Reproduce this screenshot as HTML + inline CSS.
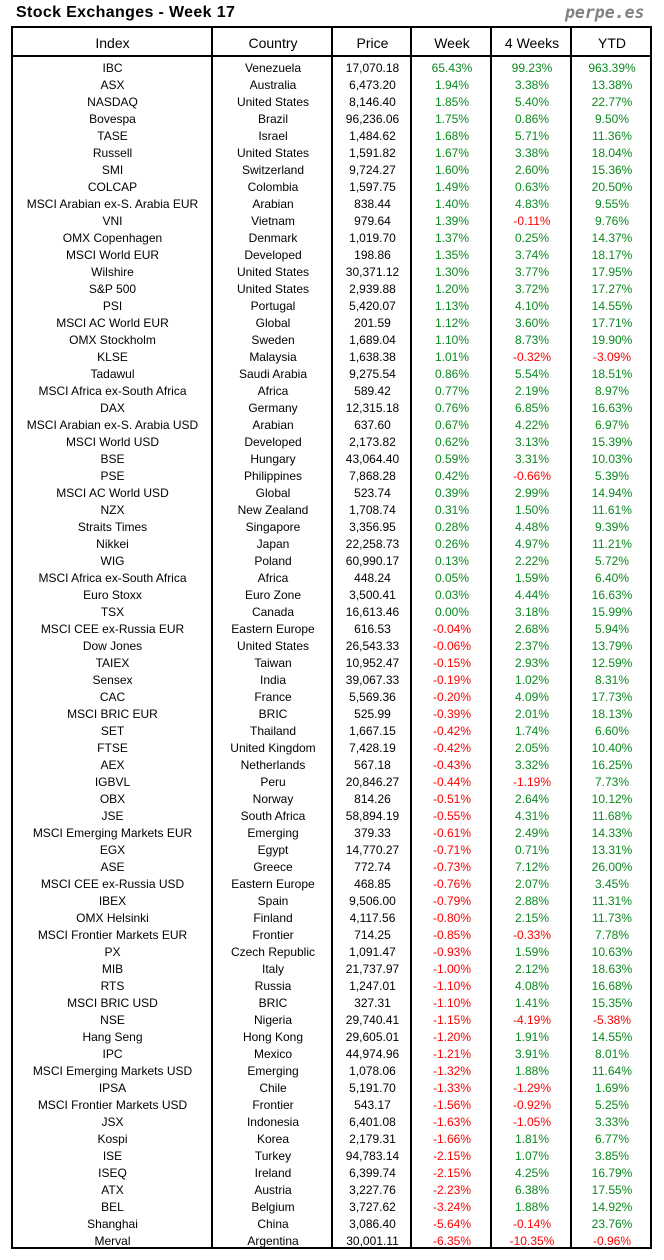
<!DOCTYPE html>
<html>
<head>
<meta charset="utf-8">
<style>
html,body{margin:0;padding:0;background:#fff;}
body{width:664px;height:1260px;position:relative;overflow:hidden;font-family:"Liberation Sans",Arial,sans-serif;color:#000;}
.title{position:absolute;left:16px;top:5px;font-size:16px;line-height:16px;font-weight:bold;letter-spacing:0.35px;white-space:nowrap;}
.brand{position:absolute;left:565px;top:4.5px;font-family:"DejaVu Sans Mono","Liberation Mono",monospace;font-weight:bold;font-style:oblique;font-size:16.5px;line-height:16.5px;color:#808080;white-space:nowrap;}
.ln{position:absolute;background:#000;}
table{position:absolute;left:12px;border-collapse:collapse;table-layout:fixed;width:640px;}
td{padding:0;text-align:center;white-space:nowrap;overflow:visible;}
#hd{top:30px;}
#hd td{height:27px;line-height:27px;font-size:14px;}
#bd{top:60px;}
#bd td{height:17px;line-height:17px;font-size:12px;}
.g{color:#0a8a1e;}
.r{color:#ff0000;}
</style>
</head>
<body>
<div class="title">Stock Exchanges - Week 17</div>
<div class="brand">perpe.es</div>

<div class="ln" style="left:11px;top:26px;width:641px;height:2px;"></div>
<div class="ln" style="left:11px;top:1247px;width:641px;height:2px;"></div>
<div class="ln" style="left:11px;top:55px;width:641px;height:2px;"></div>
<div class="ln" style="left:11px;top:26px;width:2px;height:1223px;"></div>
<div class="ln" style="left:650px;top:26px;width:2px;height:1223px;"></div>
<div class="ln" style="left:211px;top:26px;width:2px;height:1223px;"></div>
<div class="ln" style="left:331px;top:26px;width:2px;height:1223px;"></div>
<div class="ln" style="left:410px;top:26px;width:2px;height:1223px;"></div>
<div class="ln" style="left:490px;top:26px;width:2px;height:1223px;"></div>
<div class="ln" style="left:570px;top:26px;width:2px;height:1223px;"></div>

<table id="hd">
<colgroup><col style="width:201px"><col style="width:120px"><col style="width:79px"><col style="width:80px"><col style="width:80px"><col style="width:80px"></colgroup>
<tr><td>Index</td><td>Country</td><td>Price</td><td>Week</td><td>4 Weeks</td><td>YTD</td></tr>
</table>

<table id="bd">
<colgroup><col style="width:201px"><col style="width:120px"><col style="width:79px"><col style="width:80px"><col style="width:80px"><col style="width:80px"></colgroup>
<tr><td>IBC</td><td>Venezuela</td><td>17,070.18</td><td class="g">65.43%</td><td class="g">99.23%</td><td class="g">963.39%</td></tr>
<tr><td>ASX</td><td>Australia</td><td>6,473.20</td><td class="g">1.94%</td><td class="g">3.38%</td><td class="g">13.38%</td></tr>
<tr><td>NASDAQ</td><td>United States</td><td>8,146.40</td><td class="g">1.85%</td><td class="g">5.40%</td><td class="g">22.77%</td></tr>
<tr><td>Bovespa</td><td>Brazil</td><td>96,236.06</td><td class="g">1.75%</td><td class="g">0.86%</td><td class="g">9.50%</td></tr>
<tr><td>TASE</td><td>Israel</td><td>1,484.62</td><td class="g">1.68%</td><td class="g">5.71%</td><td class="g">11.36%</td></tr>
<tr><td>Russell</td><td>United States</td><td>1,591.82</td><td class="g">1.67%</td><td class="g">3.38%</td><td class="g">18.04%</td></tr>
<tr><td>SMI</td><td>Switzerland</td><td>9,724.27</td><td class="g">1.60%</td><td class="g">2.60%</td><td class="g">15.36%</td></tr>
<tr><td>COLCAP</td><td>Colombia</td><td>1,597.75</td><td class="g">1.49%</td><td class="g">0.63%</td><td class="g">20.50%</td></tr>
<tr><td>MSCI Arabian ex-S. Arabia EUR</td><td>Arabian</td><td>838.44</td><td class="g">1.40%</td><td class="g">4.83%</td><td class="g">9.55%</td></tr>
<tr><td>VNI</td><td>Vietnam</td><td>979.64</td><td class="g">1.39%</td><td class="r">-0.11%</td><td class="g">9.76%</td></tr>
<tr><td>OMX Copenhagen</td><td>Denmark</td><td>1,019.70</td><td class="g">1.37%</td><td class="g">0.25%</td><td class="g">14.37%</td></tr>
<tr><td>MSCI World EUR</td><td>Developed</td><td>198.86</td><td class="g">1.35%</td><td class="g">3.74%</td><td class="g">18.17%</td></tr>
<tr><td>Wilshire</td><td>United States</td><td>30,371.12</td><td class="g">1.30%</td><td class="g">3.77%</td><td class="g">17.95%</td></tr>
<tr><td>S&amp;P 500</td><td>United States</td><td>2,939.88</td><td class="g">1.20%</td><td class="g">3.72%</td><td class="g">17.27%</td></tr>
<tr><td>PSI</td><td>Portugal</td><td>5,420.07</td><td class="g">1.13%</td><td class="g">4.10%</td><td class="g">14.55%</td></tr>
<tr><td>MSCI AC World EUR</td><td>Global</td><td>201.59</td><td class="g">1.12%</td><td class="g">3.60%</td><td class="g">17.71%</td></tr>
<tr><td>OMX Stockholm</td><td>Sweden</td><td>1,689.04</td><td class="g">1.10%</td><td class="g">8.73%</td><td class="g">19.90%</td></tr>
<tr><td>KLSE</td><td>Malaysia</td><td>1,638.38</td><td class="g">1.01%</td><td class="r">-0.32%</td><td class="r">-3.09%</td></tr>
<tr><td>Tadawul</td><td>Saudi Arabia</td><td>9,275.54</td><td class="g">0.86%</td><td class="g">5.54%</td><td class="g">18.51%</td></tr>
<tr><td>MSCI Africa ex-South Africa</td><td>Africa</td><td>589.42</td><td class="g">0.77%</td><td class="g">2.19%</td><td class="g">8.97%</td></tr>
<tr><td>DAX</td><td>Germany</td><td>12,315.18</td><td class="g">0.76%</td><td class="g">6.85%</td><td class="g">16.63%</td></tr>
<tr><td>MSCI Arabian ex-S. Arabia USD</td><td>Arabian</td><td>637.60</td><td class="g">0.67%</td><td class="g">4.22%</td><td class="g">6.97%</td></tr>
<tr><td>MSCI World USD</td><td>Developed</td><td>2,173.82</td><td class="g">0.62%</td><td class="g">3.13%</td><td class="g">15.39%</td></tr>
<tr><td>BSE</td><td>Hungary</td><td>43,064.40</td><td class="g">0.59%</td><td class="g">3.31%</td><td class="g">10.03%</td></tr>
<tr><td>PSE</td><td>Philippines</td><td>7,868.28</td><td class="g">0.42%</td><td class="r">-0.66%</td><td class="g">5.39%</td></tr>
<tr><td>MSCI AC World USD</td><td>Global</td><td>523.74</td><td class="g">0.39%</td><td class="g">2.99%</td><td class="g">14.94%</td></tr>
<tr><td>NZX</td><td>New Zealand</td><td>1,708.74</td><td class="g">0.31%</td><td class="g">1.50%</td><td class="g">11.61%</td></tr>
<tr><td>Straits Times</td><td>Singapore</td><td>3,356.95</td><td class="g">0.28%</td><td class="g">4.48%</td><td class="g">9.39%</td></tr>
<tr><td>Nikkei</td><td>Japan</td><td>22,258.73</td><td class="g">0.26%</td><td class="g">4.97%</td><td class="g">11.21%</td></tr>
<tr><td>WIG</td><td>Poland</td><td>60,990.17</td><td class="g">0.13%</td><td class="g">2.22%</td><td class="g">5.72%</td></tr>
<tr><td>MSCI Africa ex-South Africa</td><td>Africa</td><td>448.24</td><td class="g">0.05%</td><td class="g">1.59%</td><td class="g">6.40%</td></tr>
<tr><td>Euro Stoxx</td><td>Euro Zone</td><td>3,500.41</td><td class="g">0.03%</td><td class="g">4.44%</td><td class="g">16.63%</td></tr>
<tr><td>TSX</td><td>Canada</td><td>16,613.46</td><td class="g">0.00%</td><td class="g">3.18%</td><td class="g">15.99%</td></tr>
<tr><td>MSCI CEE ex-Russia EUR</td><td>Eastern Europe</td><td>616.53</td><td class="r">-0.04%</td><td class="g">2.68%</td><td class="g">5.94%</td></tr>
<tr><td>Dow Jones</td><td>United States</td><td>26,543.33</td><td class="r">-0.06%</td><td class="g">2.37%</td><td class="g">13.79%</td></tr>
<tr><td>TAIEX</td><td>Taiwan</td><td>10,952.47</td><td class="r">-0.15%</td><td class="g">2.93%</td><td class="g">12.59%</td></tr>
<tr><td>Sensex</td><td>India</td><td>39,067.33</td><td class="r">-0.19%</td><td class="g">1.02%</td><td class="g">8.31%</td></tr>
<tr><td>CAC</td><td>France</td><td>5,569.36</td><td class="r">-0.20%</td><td class="g">4.09%</td><td class="g">17.73%</td></tr>
<tr><td>MSCI BRIC EUR</td><td>BRIC</td><td>525.99</td><td class="r">-0.39%</td><td class="g">2.01%</td><td class="g">18.13%</td></tr>
<tr><td>SET</td><td>Thailand</td><td>1,667.15</td><td class="r">-0.42%</td><td class="g">1.74%</td><td class="g">6.60%</td></tr>
<tr><td>FTSE</td><td>United Kingdom</td><td>7,428.19</td><td class="r">-0.42%</td><td class="g">2.05%</td><td class="g">10.40%</td></tr>
<tr><td>AEX</td><td>Netherlands</td><td>567.18</td><td class="r">-0.43%</td><td class="g">3.32%</td><td class="g">16.25%</td></tr>
<tr><td>IGBVL</td><td>Peru</td><td>20,846.27</td><td class="r">-0.44%</td><td class="r">-1.19%</td><td class="g">7.73%</td></tr>
<tr><td>OBX</td><td>Norway</td><td>814.26</td><td class="r">-0.51%</td><td class="g">2.64%</td><td class="g">10.12%</td></tr>
<tr><td>JSE</td><td>South Africa</td><td>58,894.19</td><td class="r">-0.55%</td><td class="g">4.31%</td><td class="g">11.68%</td></tr>
<tr><td>MSCI Emerging Markets EUR</td><td>Emerging</td><td>379.33</td><td class="r">-0.61%</td><td class="g">2.49%</td><td class="g">14.33%</td></tr>
<tr><td>EGX</td><td>Egypt</td><td>14,770.27</td><td class="r">-0.71%</td><td class="g">0.71%</td><td class="g">13.31%</td></tr>
<tr><td>ASE</td><td>Greece</td><td>772.74</td><td class="r">-0.73%</td><td class="g">7.12%</td><td class="g">26.00%</td></tr>
<tr><td>MSCI CEE ex-Russia USD</td><td>Eastern Europe</td><td>468.85</td><td class="r">-0.76%</td><td class="g">2.07%</td><td class="g">3.45%</td></tr>
<tr><td>IBEX</td><td>Spain</td><td>9,506.00</td><td class="r">-0.79%</td><td class="g">2.88%</td><td class="g">11.31%</td></tr>
<tr><td>OMX Helsinki</td><td>Finland</td><td>4,117.56</td><td class="r">-0.80%</td><td class="g">2.15%</td><td class="g">11.73%</td></tr>
<tr><td>MSCI Frontier Markets EUR</td><td>Frontier</td><td>714.25</td><td class="r">-0.85%</td><td class="r">-0.33%</td><td class="g">7.78%</td></tr>
<tr><td>PX</td><td>Czech Republic</td><td>1,091.47</td><td class="r">-0.93%</td><td class="g">1.59%</td><td class="g">10.63%</td></tr>
<tr><td>MIB</td><td>Italy</td><td>21,737.97</td><td class="r">-1.00%</td><td class="g">2.12%</td><td class="g">18.63%</td></tr>
<tr><td>RTS</td><td>Russia</td><td>1,247.01</td><td class="r">-1.10%</td><td class="g">4.08%</td><td class="g">16.68%</td></tr>
<tr><td>MSCI BRIC USD</td><td>BRIC</td><td>327.31</td><td class="r">-1.10%</td><td class="g">1.41%</td><td class="g">15.35%</td></tr>
<tr><td>NSE</td><td>Nigeria</td><td>29,740.41</td><td class="r">-1.15%</td><td class="r">-4.19%</td><td class="r">-5.38%</td></tr>
<tr><td>Hang Seng</td><td>Hong Kong</td><td>29,605.01</td><td class="r">-1.20%</td><td class="g">1.91%</td><td class="g">14.55%</td></tr>
<tr><td>IPC</td><td>Mexico</td><td>44,974.96</td><td class="r">-1.21%</td><td class="g">3.91%</td><td class="g">8.01%</td></tr>
<tr><td>MSCI Emerging Markets USD</td><td>Emerging</td><td>1,078.06</td><td class="r">-1.32%</td><td class="g">1.88%</td><td class="g">11.64%</td></tr>
<tr><td>IPSA</td><td>Chile</td><td>5,191.70</td><td class="r">-1.33%</td><td class="r">-1.29%</td><td class="g">1.69%</td></tr>
<tr><td>MSCI Frontier Markets USD</td><td>Frontier</td><td>543.17</td><td class="r">-1.56%</td><td class="r">-0.92%</td><td class="g">5.25%</td></tr>
<tr><td>JSX</td><td>Indonesia</td><td>6,401.08</td><td class="r">-1.63%</td><td class="r">-1.05%</td><td class="g">3.33%</td></tr>
<tr><td>Kospi</td><td>Korea</td><td>2,179.31</td><td class="r">-1.66%</td><td class="g">1.81%</td><td class="g">6.77%</td></tr>
<tr><td>ISE</td><td>Turkey</td><td>94,783.14</td><td class="r">-2.15%</td><td class="g">1.07%</td><td class="g">3.85%</td></tr>
<tr><td>ISEQ</td><td>Ireland</td><td>6,399.74</td><td class="r">-2.15%</td><td class="g">4.25%</td><td class="g">16.79%</td></tr>
<tr><td>ATX</td><td>Austria</td><td>3,227.76</td><td class="r">-2.23%</td><td class="g">6.38%</td><td class="g">17.55%</td></tr>
<tr><td>BEL</td><td>Belgium</td><td>3,727.62</td><td class="r">-3.24%</td><td class="g">1.88%</td><td class="g">14.92%</td></tr>
<tr><td>Shanghai</td><td>China</td><td>3,086.40</td><td class="r">-5.64%</td><td class="r">-0.14%</td><td class="g">23.76%</td></tr>
<tr><td>Merval</td><td>Argentina</td><td>30,001.11</td><td class="r">-6.35%</td><td class="r">-10.35%</td><td class="r">-0.96%</td></tr>
</table>
</body>
</html>
